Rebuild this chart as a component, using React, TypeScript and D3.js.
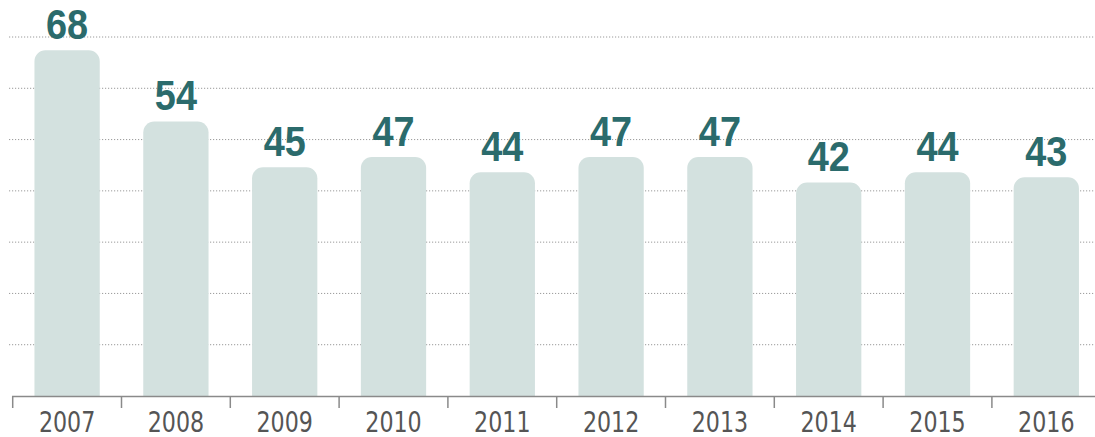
import React from "react";
import * as d3 from "d3";

const years = ["2007", "2008", "2009", "2010", "2011", "2012", "2013", "2014", "2015", "2016"];
const values = [68, 54, 45, 47, 44, 47, 47, 42, 44, 43];
const gridValues = [10, 20, 30, 40, 50, 60, 70];

const W = 1095;
const H = 437;
const baseY = 396;
const topY = 37;

export default function App() {
  const x = d3.scaleBand<string>().domain(years).range([12.7, 1100.7]).paddingInner(0.4).paddingOuter(0.2);
  const yBar = d3.scaleLinear().domain([0, 70.6]).range([baseY, topY]);
  const yGrid = d3.scaleLinear().domain([0, 70]).range([baseY, topY]);
  const step = x.step();
  const bw = x.bandwidth();
  const r = 11;

  const barPath = (x0: number, y0: number, w: number, y1: number) => {
    const p = d3.path();
    p.moveTo(x0, y1);
    p.lineTo(x0, y0 + r);
    p.arcTo(x0, y0, x0 + r, y0, r);
    p.lineTo(x0 + w - r, y0);
    p.arcTo(x0 + w, y0, x0 + w, y0 + r, r);
    p.lineTo(x0 + w, y1);
    p.closePath();
    return p.toString();
  };

  return (
    <svg width={W} height={H} style={{ position: "absolute", left: 0, top: 0, background: "#fff" }}>
      {gridValues.map((g) => (
        <line key={g} x1={9} x2={W} y1={yGrid(g)} y2={yGrid(g)} stroke="#9a9a9a" strokeWidth={1} strokeDasharray="1.2 1.8" />
      ))}
      {years.map((yr, i) => {
        const x0 = x(yr) as number;
        const yt = yBar(values[i]);
        return (
          <g key={yr}>
            <path d={barPath(x0, yt, bw, baseY)} fill="#d3e1df" />
            <text
              transform={`translate(${x0 + bw / 2},${yt - 11.5}) scale(0.88,1)`}
              textAnchor="middle"
              fontFamily="'Liberation Sans', Arial, sans-serif"
              fontWeight="bold"
              fontSize={43}
              fill="#2b6b6c"
            >
              {values[i]}
            </text>
            <text
              transform={`translate(${x0 + bw / 2},${432}) scale(0.88,1)`}
              textAnchor="middle"
              fontFamily="'Liberation Sans Narrow', 'DejaVu Sans Condensed', sans-serif"
              fontSize={28}
              fill="#555"
            >
              {yr}
            </text>
          </g>
        );
      })}
      <line x1={12} x2={W} y1={baseY + 0.5} y2={baseY + 0.5} stroke="#8a8a8a" strokeWidth={1.5} />
      {years.map((yr) => {
        const tx = (x(yr) as number) - step * 0.2;
        return <line key={"t" + yr} x1={tx} x2={tx} y1={baseY} y2={408} stroke="#8a8a8a" strokeWidth={1.5} />;
      })}
    </svg>
  );
}
